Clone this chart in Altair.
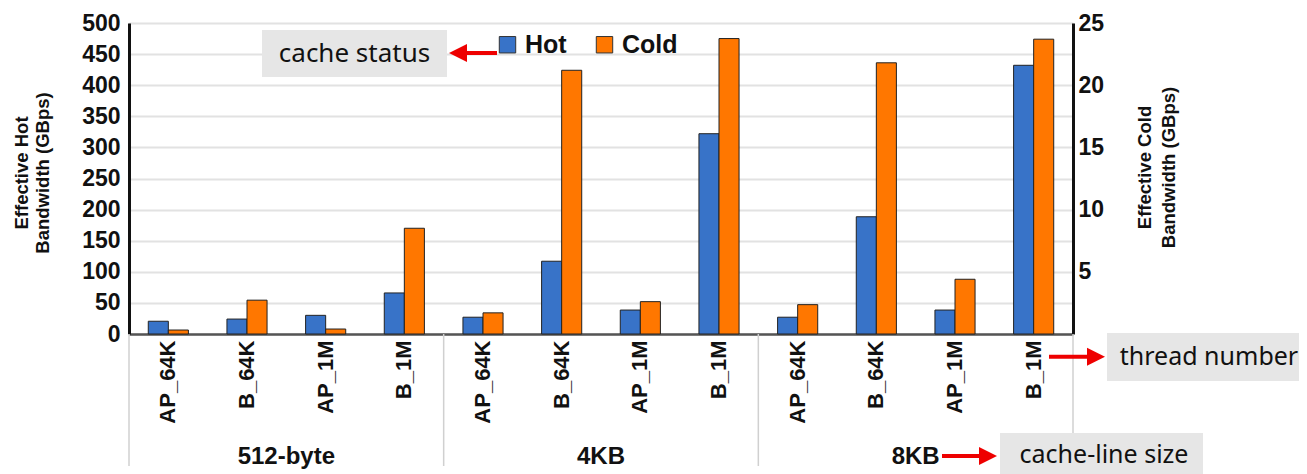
import altair as alt
import pandas as pd

# ---------------- data ----------------
cache_line = ["512-byte"] * 4 + ["4KB"] * 4 + ["8KB"] * 4
threads = ["AP_64K", "B_64K", "AP_1M", "B_1M"] * 3
hot = [20.5, 24, 30, 66, 27, 117, 38.5, 322, 27, 188.5, 38.5, 432]
cold = [0.32, 2.72, 0.4, 8.5, 1.7, 21.2, 2.6, 23.75, 2.36, 21.8, 4.4, 23.7]
groups = ["512-byte", "4KB", "8KB"]
series = ["Hot", "Cold"]
hot_ticks = list(range(0, 501, 50))
cold_ticks = [5, 10, 15, 20, 25]

keys = [f"{g}|{t}" for g, t in zip(cache_line, threads)]
df = pd.DataFrame({"key": keys, "group": cache_line, "thread": threads,
                   "Hot": hot, "Cold": cold})

per_group = len(keys) // len(groups)
grp_df = pd.DataFrame({"group": groups,
                       "center": [per_group * i + per_group / 2 for i in range(len(groups))]})
sep_df = pd.DataFrame({"b": [per_group * i for i in range(len(groups) + 1)]})
one = pd.DataFrame({"k": [0]})

# ---------------- styles ----------------
W, H = 944, 311
FONT = "Liberation Sans"
ANN = "Noto Sans"
BLUE = "#3873c8"
ORANGE = "#ff7700"
RED = "#ee0000"
INK = "#111111"

color = alt.Color(
    "series:N",
    scale=alt.Scale(domain=series, range=[BLUE, ORANGE]),
    legend=alt.Legend(
        title=None, orient="none", legendX=366, legendY=9, direction="horizontal",
        symbolType="square", symbolSize=270, symbolStrokeColor="#333",
        symbolStrokeWidth=1, labelFont=FONT, labelFontSize=25, labelFontWeight="bold",
        labelColor=INK, columnPadding=25, labelOffset=5, padding=0,
    ),
)

xenc = alt.X(
    "key:N", sort=keys,
    scale=alt.Scale(paddingInner=0.49, paddingOuter=0.245),
    axis=alt.Axis(
        title=None, labelAngle=270, labelAlign="right", labelBaseline="middle",
        labelFont=FONT, labelFontWeight="bold", labelFontSize=22, labelColor=INK,
        labelPadding=6, ticks=False, tickSize=0, domainColor="#555", domainWidth=2.5,
        labelExpr="split(datum.value, '|')[1]", grid=False,
    ),
)
xoff = alt.XOffset("series:N", scale=alt.Scale(domain=series, paddingInner=0, paddingOuter=0))

hot_layer = alt.Chart(df).transform_calculate(series="'Hot'").mark_bar(
    stroke="#222", strokeWidth=1
).encode(
    x=xenc, xOffset=xoff,
    y=alt.Y("Hot:Q", scale=alt.Scale(domain=[0, 500], nice=False),
            axis=alt.Axis(title=None, values=hot_ticks, labelFont=FONT, labelFontSize=23,
                          labelFontWeight="bold", labelColor=INK, ticks=False, tickSize=0,
                          labelPadding=9, domainColor="#111", domainWidth=3,
                          grid=True, gridColor="#e2e2e2", gridWidth=2)),
    color=color,
)

cold_layer = alt.Chart(df).transform_calculate(series="'Cold'").mark_bar(
    stroke="#222", strokeWidth=1
).encode(
    x=xenc, xOffset=xoff,
    y=alt.Y("Cold:Q", scale=alt.Scale(domain=[0, 25], nice=False),
            axis=alt.Axis(title=None, orient="right", values=cold_ticks, labelFont=FONT,
                          labelFontSize=23, labelFontWeight="bold", labelColor=INK,
                          ticks=False, tickSize=0, labelPadding=5, domainColor="#111",
                          domainWidth=3, grid=False)),
    color=color,
)

bars = alt.layer(hot_layer, cold_layer).resolve_scale(y="independent")

qx = alt.Scale(domain=[0, len(keys)], nice=False)
seps = alt.Chart(sep_df).mark_rule(color="#d0d0d0", strokeWidth=1.5).encode(
    x=alt.X("b:Q", scale=qx, axis=None),
    y=alt.value(H), y2=alt.value(H + 132),
)
glabels = alt.Chart(grp_df).mark_text(
    font=FONT, fontSize=24, fontWeight="bold", color=INK, baseline="middle"
).encode(
    x=alt.X("center:Q", scale=qx, axis=None),
    y=alt.value(433.5),
    text="group:N",
)


def box(x, x2, y, y2):
    return alt.Chart(one).mark_rect(color="#e6e6e6").encode(
        x=alt.value(x), x2=alt.value(x2), y=alt.value(y), y2=alt.value(y2))


def label(txt, x, y, size=25, font=ANN, weight="normal", angle=0, align="center",
          baseline="middle", lh=22):
    return alt.Chart(one).mark_text(
        text=txt, font=font, fontSize=size, fontWeight=weight, color=INK, angle=angle,
        align=align, baseline=baseline, lineHeight=lh,
    ).encode(x=alt.value(x), y=alt.value(y))


def arrow(x_from, x_tip, y):
    right = x_tip > x_from
    head = "M-1,-1L1,0L-1,1Z" if right else "M1,-1L-1,0L1,1Z"
    hc = x_tip - 9 if right else x_tip + 9
    shaft = alt.Chart(one).mark_rule(color=RED, strokeWidth=4).encode(
        x=alt.value(x_from), x2=alt.value(hc), y=alt.value(y))
    tip = alt.Chart(one).mark_point(shape=head, filled=True, size=324, color=RED,
                                    opacity=1, strokeWidth=0).encode(
        x=alt.value(hc), y=alt.value(y))
    return [shaft, tip]


annotations = [
    box(133, 318, 7, 54), label("cache status", 225.5, 30.5, size=26),
    box(978, 1180, 310, 358), label("thread number", 1080, 334),
    box(871, 1074, 410, 460), label("cache-line size", 975, 432),
    *arrow(368, 320, 30),
    *arrow(920, 976, 333.7),
    *arrow(813, 868, 433),
    label(["Effective Hot", "Bandwidth (GBps)"], -101, 150, size=18.5, font=FONT,
          weight="bold", angle=270, baseline="alphabetic", lh=21),
    label(["Effective Cold", "Bandwidth (GBps)"], 1022, 144.5, size=18.5, font=FONT,
          weight="bold", angle=270, baseline="alphabetic", lh=24),
]

chart = alt.layer(bars, seps, glabels, *annotations).resolve_scale(
    x="independent", y="independent"
).properties(
    width=W, height=H,
    autosize=alt.AutoSizeParams(type="none"),
    padding={"left": 121, "top": 15, "right": 226, "bottom": 140},
).configure_view(stroke="#555", strokeWidth=2).configure(background="white")

chart.save("out.html", embed_options={"renderer": "svg", "actions": False})
